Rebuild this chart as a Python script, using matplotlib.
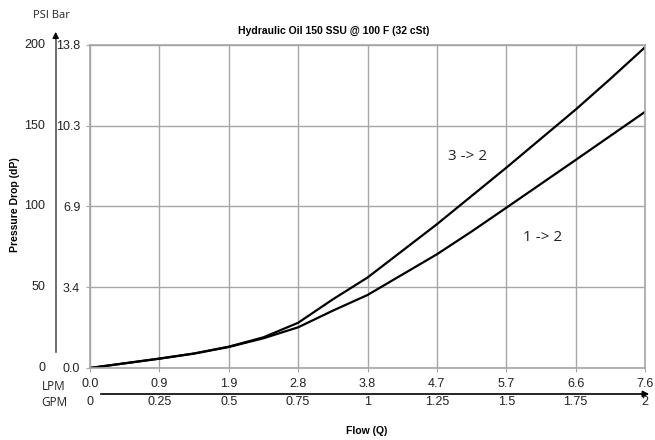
import matplotlib.pyplot as plt
from matplotlib.transforms import blended_transform_factory

# flow in GPM and pressure drop in PSI
gpm = [0, 0.125, 0.25, 0.375, 0.5, 0.625, 0.75, 0.875, 1.0,
       1.125, 1.25, 1.375, 1.5, 1.625, 1.75, 1.875, 2.0]
psi_3_2 = [0, 2.9, 5.8, 9.0, 13.2, 19.0, 28.0, 42.5, 56.0,
           72.5, 89.0, 106.5, 124, 142, 160, 179, 198.6]
psi_1_2 = [0, 2.9, 5.8, 8.9, 13.0, 18.4, 25.2, 35.5, 45.2,
           57.8, 70.4, 84.5, 99.2, 114, 128.8, 143.7, 158.6]

gpm_ticks = [0, 0.25, 0.5, 0.75, 1, 1.25, 1.5, 1.75, 2]
gpm_labels = ['0', '0.25', '0.5', '0.75', '1', '1.25', '1.5', '1.75', '2']
lpm_labels = ['0.0', '0.9', '1.9', '2.8', '3.8', '4.7', '5.7', '6.6', '7.6']
psi_ticks = [0, 50, 100, 150, 200]
bar_labels = ['0.0', '3.4', '6.9', '10.3', '13.8']

plt.rcParams['font.family'] = ['Liberation Sans', 'DejaVu Sans']

fig = plt.figure(figsize=(6.55, 4.4), dpi=100)
ax = fig.add_axes([90/655, 1-368/440, 555/655, 323/440])

grid_c = '#a6a6a6'
ax.set_xlim(0, 2)
ax.set_ylim(0, 200)
ax.set_xticks(gpm_ticks)
ax.set_xticklabels(lpm_labels)
ax.set_yticks(psi_ticks)
ax.set_yticklabels(bar_labels)
ax.grid(True, color=grid_c, linewidth=1)
ax.set_axisbelow(True)
for s in ax.spines.values():
    s.set_color(grid_c)
    s.set_linewidth(1.2)
ax.tick_params(length=3, color=grid_c, labelsize=9, pad=4, labelcolor='#222222')

ax.plot(gpm, psi_3_2, color='black', lw=1.6)
ax.plot(gpm, psi_1_2, color='black', lw=1.6)

ax.text(1.29, 131, '3 -> 2', fontsize=11, family='Open Sans', color='#222222', va='center')
ax.text(1.56, 80.5, '1 -> 2', fontsize=11, family='Open Sans', color='#222222', va='center')

# psi labels on outer left
for p in psi_ticks:
    ax.text(-0.081, p, str(p), transform=blended_transform_factory(ax.transAxes, ax.transData),
            ha='right', va='center', fontsize=9, color='#222222')

# psi arrow axis
fig.add_artist(plt.Line2D([55.7/655, 55.7/655], [1-352/440, 1-40/440],
                          transform=fig.transFigure, color='#555555', lw=1.2))
ax.annotate('', xy=(55.7/655, 1-29/440), xytext=(55.7/655, 1-42/440),
            xycoords='figure fraction', textcoords='figure fraction',
            arrowprops=dict(arrowstyle='-|>', color='black', lw=1, mutation_scale=9))
fig.text(51/655, 1-15/440, 'PSI Bar', ha='center', va='center', fontsize=8,
         family='Open Sans', color='#222222')

# GPM axis below
tr = blended_transform_factory(ax.transData, fig.transFigure)
ax.annotate('', xy=(652/655, 1-394/440), xytext=(98/655, 1-394/440),
            xycoords='figure fraction', textcoords='figure fraction',
            arrowprops=dict(arrowstyle='-|>', color='black', lw=1.2, mutation_scale=9))
for g, lab in zip(gpm_ticks, gpm_labels):
    ax.text(g, 1-402/440, lab, transform=tr, ha='center', va='center',
            fontsize=9, color='#222222', clip_on=False)

fig.text(54/655, 1-386/440, 'LPM', ha='center', va='center', fontsize=8.5,
         family='Open Sans', color='#222222')
fig.text(54/655, 1-402/440, 'GPM', ha='center', va='center', fontsize=8.5,
         family='Open Sans', color='#222222')

fig.text(367/655, 1-431/440, 'Flow (Q)', ha='center', va='center', fontsize=7.5,
         fontweight='bold')
fig.text(15/655, 1-205/440, 'Pressure Drop (dP)', ha='center', va='center',
         fontsize=7.5, fontweight='bold', rotation=90)
fig.text(334/655, 1-31/440, 'Hydraulic Oil 150 SSU @ 100 F (32 cSt)', ha='center',
         va='center', fontsize=7.5, fontweight='bold')

fig.savefig('out.png', dpi=100)
